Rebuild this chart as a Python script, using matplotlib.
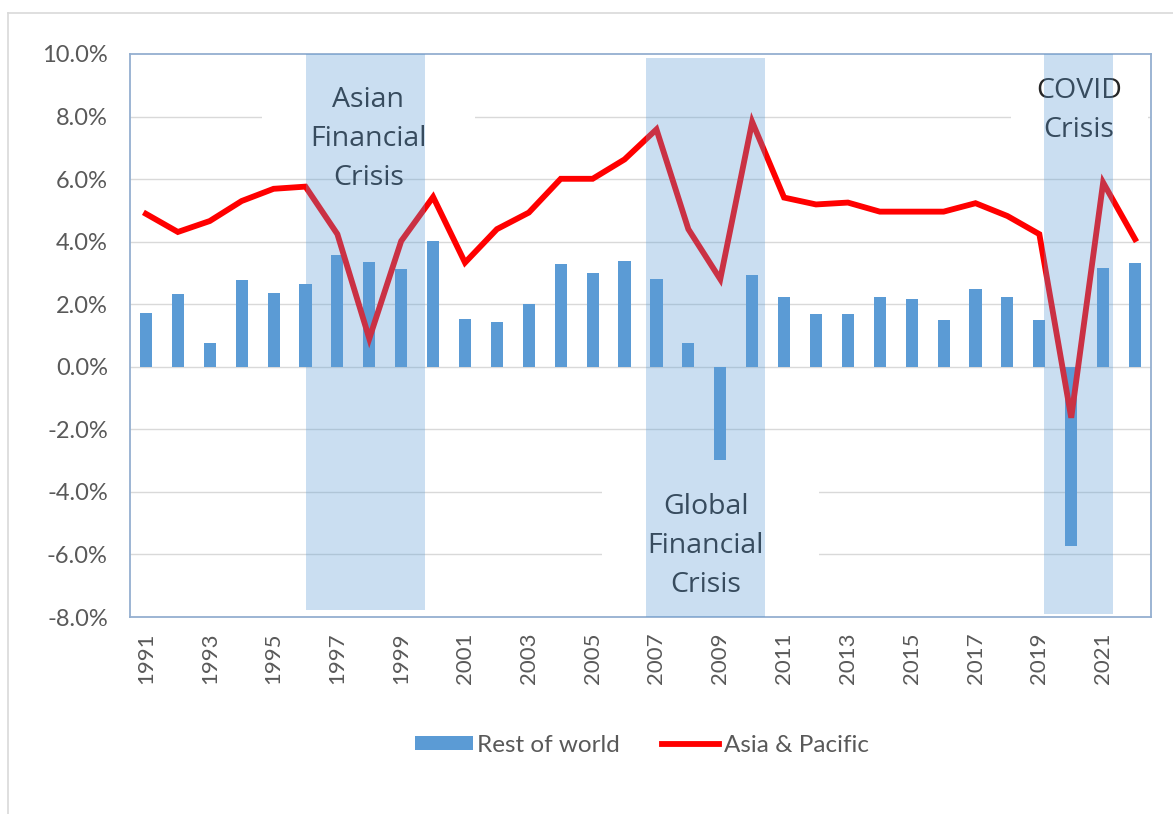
import matplotlib
matplotlib.use("Agg")
import matplotlib.pyplot as plt
from matplotlib.patches import Rectangle
from matplotlib.lines import Line2D
from matplotlib.patches import Patch

years = list(range(1991, 2023))
rest_of_world = [1.73, 2.32, 0.77, 2.77, 2.37, 2.66, 3.57, 3.35, 3.12, 4.02,
                 1.52, 1.44, 2.02, 3.28, 2.99, 3.38, 2.82, 0.77, -2.99, 2.93,
                 2.24, 1.68, 1.68, 2.24, 2.18, 1.50, 2.48, 2.24, 1.50, -5.73,
                 3.15, 3.33]
asia_pacific = [4.89, 4.31, 4.66, 5.30, 5.69, 5.76, 4.24, 0.90, 4.02, 5.43,
                3.33, 4.40, 4.93, 6.01, 6.01, 6.63, 7.59, 4.40, 2.80, 7.83,
                5.41, 5.19, 5.25, 4.96, 4.96, 4.96, 5.23, 4.82, 4.24, -1.63,
                5.89, 4.08]

# crisis bands
crisis_labels = ["Asian\nFinancial\nCrisis", "Global\nFinancial\nCrisis", "COVID\nCrisis"]
crisis_start = [1996.02, 2006.66, 2019.14]
crisis_end = [1999.75, 2010.39, 2021.30]
crisis_top = [10.0, 9.87, 10.0]
crisis_bottom = [-7.78, -8.0, -7.9]
label_year = [1997.97, 2008.54, 2020.24]
label_y = [7.28, -5.73, 8.18]

yticks = [-8, -6, -4, -2, 0, 2, 4, 6, 8, 10]
xtick_years = list(range(1991, 2022, 2))

plt.rcParams['font.family'] = ['Lato', 'DejaVu Sans']

W, H = 1173, 814
fig = plt.figure(figsize=(W / 100, H / 100), dpi=100)
ax = fig.add_axes([130 / W, 1 - 617 / H, (1151 - 130) / W, (617 - 54) / H])

bar_c = '#5b9bd5'
line_c = '#ff0000'
grid_c = '#d9d9d9'
frame_c = '#94afd0'

ax.set_xlim(1990.5, 2022.5)
ax.set_ylim(-8, 10)
ax.set_yticks(yticks)
ax.set_yticklabels([f"{v:.1f}%" for v in yticks])
ax.set_xticks(xtick_years)
ax.set_xticklabels([str(y) for y in xtick_years], rotation=90)
ax.tick_params(axis='both', length=0, colors='#595959')
ax.tick_params(axis='y', pad=16, labelsize=17)
ax.tick_params(axis='x', pad=11, labelsize=16)
for s in ax.spines.values():
    s.set_color(frame_c)
    s.set_linewidth(1.3)

for v in yticks[1:-1]:
    ax.axhline(v, color=grid_c, lw=1.0, zorder=0)

# white text boxes hiding gridlines (as in the original)
boxes = [(1994.64, 2001.32, 6.4, 9.6), (2005.3, 2012.1, -7.9, -2.6), (2018.1, 2022.4, 6.4, 9.6)]
for x0, x1, y0, y1 in boxes:
    ax.add_patch(Rectangle((x0, y0), x1 - x0, y1 - y0, facecolor='white',
                           edgecolor='none', zorder=1))

ax.bar(years, rest_of_world, width=0.38, color=bar_c, zorder=2)
ax.plot(years, asia_pacific, color=line_c, lw=4.2, zorder=3, solid_joinstyle='miter')

for lab, x0, x1, yt, yb, lx, ly in zip(crisis_labels, crisis_start, crisis_end,
                                         crisis_top, crisis_bottom, label_year, label_y):
    ax.text(lx, ly, lab, ha='center', va='center', fontsize=20.5, color='#262626',
            linespacing=1.52, zorder=4, family=['Open Sans', 'DejaVu Sans'])
    ax.add_patch(Rectangle((x0, yb), x1 - x0, yt - yb, facecolor=bar_c,
                           alpha=0.32, edgecolor='none', zorder=5))

handles = [Patch(facecolor=bar_c, edgecolor='none', label='Rest of world'),
           Line2D([0], [0], color=line_c, lw=4.2, label='Asia & Pacific')]
fig.legend(handles=handles, loc='center', bbox_to_anchor=(642 / W, 1 - 745 / H),
           ncol=2, frameon=False, fontsize=17.5, labelcolor='#595959',
           handlelength=2.35, handleheight=0.55, handletextpad=0.2, columnspacing=1.7)

# outer chart border
fig.add_artist(Line2D([8 / W, 8 / W], [0, 1 - 13 / H], color='#d9d9d9', lw=1.2))
fig.add_artist(Line2D([8 / W, 1], [1 - 13 / H, 1 - 13 / H], color='#d9d9d9', lw=1.2))

fig.savefig('out.png', dpi=100)
